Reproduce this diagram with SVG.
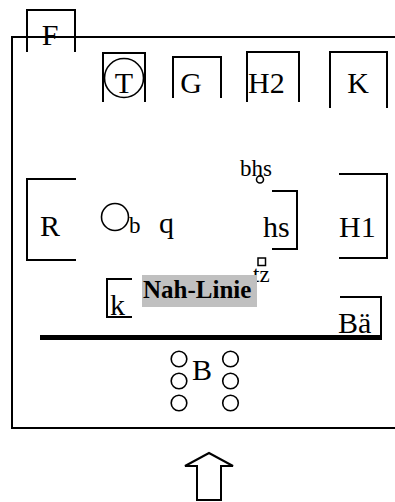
<svg xmlns="http://www.w3.org/2000/svg" width="395" height="502" viewBox="0 0 395 502">
<style>
.ln{fill:none;stroke:#000;stroke-width:2}
.c{fill:none;stroke:#000;stroke-width:1.6}
.t{font-family:"Liberation Serif","Times New Roman",serif;font-size:30px;fill:#000}
.s{font-family:"Liberation Serif","Times New Roman",serif;font-size:23px;fill:#000}
.b{font-family:"Liberation Serif","Times New Roman",serif;font-size:25px;font-weight:bold;fill:#000}
</style>
<rect width="395" height="502" fill="#fff"/>
<g id="frame">
<path class="ln" d="M398 37 H12 V428 H398"/>
</g>
<g id="F">
<path class="ln" d="M27 52 V10 H75 V52"/>
<text class="t" x="50" y="45" text-anchor="middle">F</text>
</g>
<g id="T">
<path class="ln" d="M103 102 V53 H145 V102"/>
<circle class="c" cx="124" cy="78" r="19.5"/>
<text class="t" x="124" y="93" text-anchor="middle">T</text>
</g>
<g id="G">
<path class="ln" d="M173 98 V57 H221 V98"/>
<text class="t" x="191" y="93" text-anchor="middle">G</text>
</g>
<g id="H2">
<path class="ln" d="M247 102 V52 H299 V102"/>
<text class="t" x="248" y="93">H2</text>
</g>
<g id="K">
<path class="ln" d="M330 108 V52 H387 V108"/>
<text class="t" x="358" y="93" text-anchor="middle">K</text>
</g>
<g id="R">
<path class="ln" d="M76 179 H27 V260 H76"/>
<text class="t" x="40" y="236">R</text>
</g>
<g id="b">
<circle class="c" cx="115" cy="217" r="13.5"/>
<text class="s" x="129" y="233">b</text>
</g>
<g id="q">
<text class="t" x="159" y="233">q</text>
</g>
<g id="bhs">
<text class="s" x="240" y="176">bhs</text>
<circle class="c" cx="260" cy="179.5" r="3.5" style="fill:#fff"/>
</g>
<g id="hs">
<path class="ln" d="M272 191 H297 V249 H272"/>
<text class="t" x="263" y="237">hs</text>
</g>
<g id="H1">
<path class="ln" d="M339 174 H387 V258 H339"/>
<text class="t" x="339" y="237">H1</text>
</g>
<g id="tz">
<text class="s" x="253" y="282">tz</text>
<rect x="258" y="258" width="7.5" height="7.5" fill="#fff" stroke="#000" stroke-width="1.5"/>
</g>
<g id="k">
<path class="ln" d="M132 279 H107 V317 H132"/>
<text class="t" x="110" y="315">k</text>
</g>
<g id="NahLinie">
<rect x="142" y="275" width="115" height="32" fill="#c0c0c0"/>
<text class="b" x="143" y="298">Nah-Linie</text>
</g>
<g id="line">
<path d="M40 337.5 H382" stroke="#000" stroke-width="5" fill="none"/>
</g>
<g id="Ba">
<path class="ln" d="M340 297 H381 V339 H340"/>
<text class="t" x="338" y="333">Bä</text>
</g>
<g id="B">
<circle class="c" cx="179" cy="359" r="7.8"/>
<circle class="c" cx="179" cy="381" r="7.8"/>
<circle class="c" cx="179" cy="403" r="7.8"/>
<circle class="c" cx="230.5" cy="359" r="7.8"/>
<circle class="c" cx="230.5" cy="381" r="7.8"/>
<circle class="c" cx="230.5" cy="403" r="7.8"/>
<text class="t" x="192" y="380">B</text>
</g>
<g id="arrow">
<path class="ln" d="M209 453 L233 466 H221 V500 H197 V466 H185 Z"/>
</g>
</svg>
